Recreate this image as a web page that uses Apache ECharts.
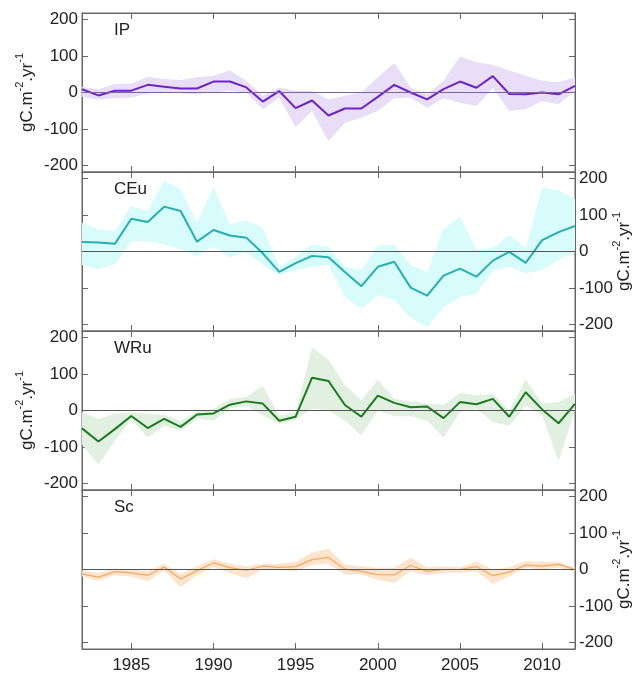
<!DOCTYPE html>
<html>
<head>
<meta charset="utf-8">
<script src="https://cdn.jsdelivr.net/npm/echarts@6/dist/echarts.min.js"></script>
<style>
  html, body { margin: 0; padding: 0; background: #fff; }
  #main { width: 634px; height: 679px; }
</style>
</head>
<body>
<div id="main"></div>
<script>
// years on the x axis
var years = [1982,1983,1984,1985,1986,1987,1988,1989,1990,1991,1992,1993,1994,1995,1996,
	1997,1998,1999,2000,2001,2002,2003,2004,2005,2006,2007,2008,2009,2010,2011,2012];

var x_ticks = [1985, 1990, 1995, 2000, 2005, 2010];
var y_ticks = [-200, -100, 0, 100, 200];

// IP
var ip_mean  = [9,-8,5,5,21,16,11,11,30,30,14,-25,4,-43,-22,-63,-44,-44,-12,21,0,-19,9,30,13,45,-4,-5,0,-5,18];
var ip_upper = [16,9,23,25,43,37,34,42,46,60,32,-9,14,5,5,-19,-9,0,42,81,14,-5,32,99,83,76,60,46,32,28,42];
var ip_lower = [-12,-19,-16,-14,-3,2,-3,-5,0,5,0,-46,-14,-95,-51,-134,-83,-69,-51,-16,-14,-42,-16,-28,-37,12,-51,-46,-23,-32,5];

// CEu
var ceu_mean  = [26,25,21,90,81,123,111,27,59,44,38,-5,-56,-32,-12,-16,-56,-95,-42,-28,-99,-121,-66,-47,-69,-25,-1,-31,31,53,70];
var ceu_upper = [79,60,56,125,111,194,171,79,176,74,86,65,-42,-14,19,14,-42,-51,16,19,-37,-56,60,95,5,9,46,9,176,167,144];
var ceu_lower = [-37,-49,-35,28,28,19,6,-14,14,-16,0,-37,-65,-51,-42,-37,-125,-157,-120,-133,-181,-208,-153,-125,-116,-53,-42,-60,-51,-23,0];

// WRu
var wru_mean  = [-49,-85,-51,-15,-48,-23,-45,-11,-8,16,25,19,-28,-17,90,81,15,-17,41,21,9,11,-21,23,17,32,-17,50,3,-35,18];
var wru_upper = [-5,-23,-9,-5,-9,-12,-28,-3,3,32,37,68,-14,-5,173,139,69,28,85,32,25,19,16,48,42,46,0,85,19,23,46];
var wru_lower = [-93,-148,-83,-23,-74,-42,-56,-23,-28,6,12,-14,-37,-25,5,0,-28,-68,0,-16,-16,-28,-74,-5,5,-32,-42,14,-14,-139,0];

// Sc
var sc_mean  = [-12,-21,-6,-9,-16,7,-26,-3,18,5,-2,9,6,8,27,33,1,-5,-14,-15,11,-5,0,0,8,-17,-7,12,9,14,0];
var sc_upper = [-3,-9,3,0,-5,16,-12,9,28,16,9,16,16,21,46,57,14,9,5,5,32,6,9,6,21,0,6,23,21,21,6];
var sc_lower = [-19,-31,-16,-19,-32,-3,-49,-16,7,-9,-25,0,-3,-5,12,16,-14,-14,-28,-37,-5,-16,-9,-9,-5,-40,-19,5,0,5,-5];

var panel_names = ["IP", "CEu", "WRu", "Sc"];
var panel_mean  = [ip_mean, ceu_mean, wru_mean, sc_mean];
var panel_upper = [ip_upper, ceu_upper, wru_upper, sc_upper];
var panel_lower = [ip_lower, ceu_lower, wru_lower, sc_lower];

// 颜色
var line_color = ["#6c22c8", "#25afae", "#1b7a1f", "#f0aa66"];
var band_color = ["#e8def8", "#d8fbfb", "#e2f0e2", "#fde4cc"];
var zero_color = ["#7a64a0", "#555555", "#555555", "#555555"];
var line_width = [2, 2, 2, 1.2];

var y_min = -218, y_max = 218;
var grid_top = [13, 172, 331, 490], grid_h = 159;
var font = "'Liberation Sans', Arial, sans-serif";
var unit_name = "{b|gC.m}{s|-2}{b|.yr}{s|-1}";

function pairs(arr){
	return years.map(function(y, i){ return [y, arr[i]]; });
}

// 阴影带多边形：上界正向 + 下界反向
function band_render(up, lo, color){
	return function(params, api){
		if (params.dataIndex != 0) return;
		var pts = [];
		for (var k = 0; k < years.length; k++) pts.push(api.coord([years[k], up[k]]));
		for (var k = years.length - 1; k >= 0; k--) pts.push(api.coord([years[k], lo[k]]));
		return {type: "polygon", shape: {points: pts}, style: {fill: color}, silent: true};
	};
}

var grids = [], x_axes = [], y_axes = [], series = [], graphics = [];

for (var i = 0; i < 4; i++){
	grids.push({left: 82, right: 59, top: grid_top[i], height: grid_h,
		outerBoundsMode: "none", containLabel: false,
		show: true, borderColor: "#666", borderWidth: 1, backgroundColor: "transparent"});

	// 下面和上面的x轴
	["bottom", "top"].forEach(function(pos){
		x_axes.push({
			type: "value", gridIndex: i, position: pos, min: 1982, max: 2012,
			axisLine: {show: true, onZero: false, lineStyle: {color: "#666"}},
			axisTick: {show: true, inside: true, length: 6, customValues: x_ticks, lineStyle: {color: "#666"}},
			axisLabel: {show: (i == 3 && pos == "bottom"), customValues: x_ticks, fontSize: 17,
				color: "#222", fontFamily: font, margin: 8,
				formatter: function(v){ return String(v); }},
			splitLine: {show: false}
		});
	});

	// 左边和右边的y轴
	["left", "right"].forEach(function(pos){
		var show_lab = (pos == "left") ? (i % 2 == 0) : (i % 2 == 1);
		y_axes.push({
			type: "value", gridIndex: i, position: pos, min: y_min, max: y_max,
			axisLine: {show: true, onZero: false, lineStyle: {color: "#666"}},
			axisTick: {show: true, inside: true, length: 6, customValues: y_ticks, lineStyle: {color: "#666"}},
			axisLabel: {show: show_lab, customValues: y_ticks, fontSize: 17, color: "#222",
				fontFamily: font, margin: 4},
			splitLine: {show: false},
			name: show_lab ? unit_name : "",
			nameLocation: "middle",
			nameRotate: 90,
			nameMoveOverlap: false,
			nameGap: pos == "left" ? 46 : 36,
			nameTextStyle: {
				color: "#222", fontFamily: font,
				rich: {
					b: {fontSize: 17, fontFamily: font, color: "#222", lineHeight: 22, verticalAlign: "bottom"},
					s: {fontSize: 11, fontFamily: font, color: "#222", lineHeight: 22, verticalAlign: "top"}
				}
			}
		});
	});

	var xi = 2 * i, yi = 2 * i;

	// 阴影带
	series.push({
		type: "custom", xAxisIndex: xi, yAxisIndex: yi, silent: true, z: 1,
		data: pairs(panel_upper[i]),
		renderItem: band_render(panel_upper[i], panel_lower[i], band_color[i])
	});
	// 平均线
	series.push({
		type: "line", xAxisIndex: xi, yAxisIndex: yi,
		data: pairs(panel_mean[i]), symbol: "none", silent: true,
		lineStyle: {color: line_color[i], width: line_width[i]},
		markLine: {
			silent: true, symbol: ["none", "none"], label: {show: false},
			lineStyle: {color: zero_color[i], width: 1, type: "solid"},
			data: [{yAxis: 0}]
		},
		z: 3
	});

	graphics.push({
		type: "text", left: 114, top: grid_top[i] + 9,
		style: {text: panel_names[i], fontSize: 17, fill: "#222", fontFamily: font}
	});
}

var myChart = echarts.init(document.getElementById("main"));
myChart.setOption({
	animation: false,
	backgroundColor: "#fff",
	grid: grids,
	xAxis: x_axes,
	yAxis: y_axes,
	series: series,
	graphic: graphics
});
</script>
</body>
</html>
